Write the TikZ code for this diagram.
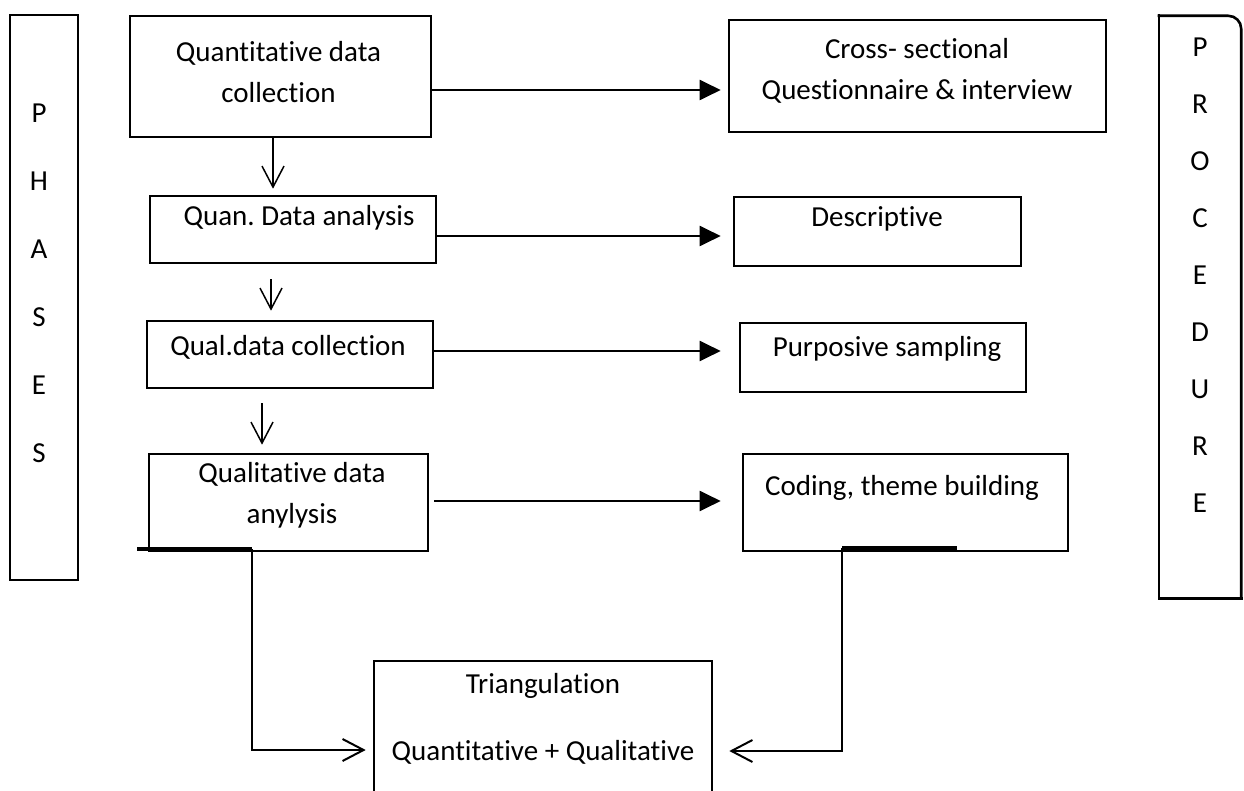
\documentclass[tikz,border=0pt]{standalone}
\usepackage{fontspec}
\setmainfont[Ligatures=NoCommon]{Carlito}
\frenchspacing
\usetikzlibrary{arrows.meta,positioning}
\newcommand{\boxfont}{\fontsize{29}{41}\selectfont}
\newcommand{\barbtip}{Straight Barb[length=21pt,width=22pt]}

\begin{document}
\begin{tikzpicture}[x=1pt,y=-1pt,
  box/.style={draw,line width=2.6pt,inner sep=0pt},
  txt/.style={font=\boxfont,align=center,inner sep=0pt},
  flow/.style={line width=2pt,-{Triangle[length=21pt,width=20pt]}},
  down/.style={line width=1.5pt,-{\barbtip}},
  link/.style={line width=2pt,-{\barbtip}},
  stub/.style={line width=3.5pt}]

 \useasboundingbox (0,0) rectangle (1244,791);

 % side bars
 \node[box,minimum width=68pt,minimum height=565pt] (phases) at (44,297.5) {};
 \node[txt,font=\fontsize{29}{68}\selectfont] (phasestxt) at (39,283) {P\\H\\A\\S\\E\\S};
 \node[inner sep=0pt,minimum width=82pt,minimum height=582pt] (proc) at (1200,307) {};
 \draw[line width=2.6pt,line cap=rect] (proc.north west) -- (proc.south west) -- (proc.south east);
 \draw[line width=2.6pt,line cap=rect,rounded corners=13pt] (proc.north west) -- (proc.north east) -- (proc.south east);
 \node[txt,font=\fontsize{29}{57}\selectfont] (proctxt) at (1200,275) {P\\R\\O\\C\\E\\D\\U\\R\\E};

 % phases
 \node[box,minimum width=301pt,minimum height=121pt] (qncol) at (280.5,76.5) {};
 \node[txt] (qncoltxt) at (278.5,72.5) {Quantitative data\\collection};
 \node[box,minimum width=286pt,minimum height=67pt] (qnana) at (293,229.5) {};
 \node[txt] (qnanatxt) at (299,218) {Quan. Data analysis};
 \node[box,minimum width=286pt,minimum height=67pt] (qlcol) at (290,354.5) {};
 \node[txt] (qlcoltxt) at (288,347) {Qual.data collection};
 \node[box,minimum width=279pt,minimum height=97pt] (qlana) at (288.5,502.5) {};
 \node[txt] (qlanatxt) at (292,495) {Qualitative data\\anylysis};

 % procedures
 \node[box,minimum width=377pt,minimum height=112pt] (cross) at (917.5,76) {};
 \node[txt] (crosstxt) at (917,70.5) {Cross- sectional\\Questionnaire \& interview};
 \node[box,minimum width=287pt,minimum height=69pt] (desc) at (877.5,231.5) {};
 \node[txt] (desctxt) at (877,219) {Descriptive};
 \node[box,minimum width=286pt,minimum height=69pt] (purp) at (883,357.5) {};
 \node[txt] (purptxt) at (887,349) {Purposive sampling};
 \node[box,minimum width=325pt,minimum height=97pt] (coding) at (905.5,502.5) {};
 \node[txt] (codingtxt) at (902,488) {Coding, theme building};

 \node[box,minimum width=338pt,minimum height=158pt] (tri) at (543,740) {};
 \node[txt,font=\fontsize{29}{67}\selectfont] (tritxt) at (543,718.5) {Triangulation\\Quantitative + Qualitative};

 % connectors
 \draw[flow,shorten >=7pt] (qncol.east |- 0,90) -- (cross.west |- 0,90);
 \draw[flow,shorten >=12pt] (qnana.east |- 0,236) -- (desc.west |- 0,236);
 \draw[flow,shorten >=18pt] (qlcol.east |- 0,351) -- (purp.west |- 0,351);
 \draw[flow,shorten <=5pt,shorten >=21pt] (qlana.east |- 0,501) -- (coding.west |- 0,501);

 \draw[down,shorten >=6pt] (qncol.south -| 273,0) -- (qnana.north -| 273,0);
 \draw[down,shorten <=15pt,shorten >=9pt] (qnana.south -| 271,0) -- (qlcol.north -| 271,0);
 \draw[down,shorten <=14pt,shorten >=8pt] (qlcol.south -| 262,0) -- (qlana.north -| 262,0);

 \coordinate (qlstub) at (137,549);
 \coordinate (cdstub) at (957,548);
 \draw[stub] (qlstub) -- (qlstub -| 252,0);
 \draw[stub] (cdstub) -- (cdstub -| 842,0);
 \draw[link,shorten >=7pt] (qlstub -| 252,0) |- (tri.west |- 0,750);
 \draw[link,shorten >=16pt] (cdstub -| 842,0) |- (tri.east |- 0,751);

\end{tikzpicture}
\end{document}
